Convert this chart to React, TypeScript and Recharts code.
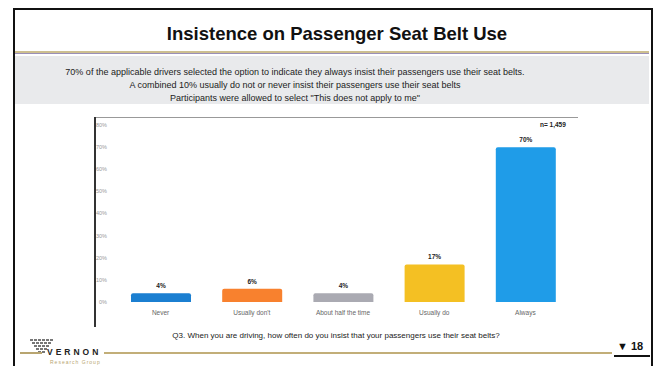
import { BarChart, Bar, XAxis, YAxis, Cell, LabelList } from "recharts";

const categories = ["Never", "Usually don't", "About half the time", "Usually do", "Always"];
const percents = [4, 6, 4, 17, 70];
const barColors = ["#1b7fd1", "#f8812e", "#aaaab2", "#f4c023", "#1f9ce8"];
const yTicks = [0, 10, 20, 30, 40, 50, 60, 70, 80];

const data = categories.map((name, i) => ({ name, value: percents[i] }));

const narrow = "'Liberation Sans Narrow', 'Liberation Sans', Arial, sans-serif";

function Logo() {
  const dots = [];
  for (let r = 0; r < 5; r++) {
    const n = 6 - r;
    for (let c = 0; c < n; c++) {
      dots.push(<rect key={r + "-" + c} x={2 + r * 2 + c * 4} y={r * 3} width={3} height={2} fill="#777" />);
    }
  }
  return (
    <svg width={30} height={17} style={{ position: "absolute", left: 28, top: 339 }}>
      {dots}
    </svg>
  );
}

export default function App() {
  return (
    <div style={{ position: "fixed", left: 0, top: 0, width: 655, height: 366, background: "#fff", overflow: "hidden", fontFamily: "'Liberation Sans', Arial, sans-serif" }}>
      {/* slide frame */}
      <div style={{ position: "absolute", left: 13, top: 8, width: 636, height: 370, border: "2px solid #111" }} />
      <div style={{ position: "absolute", left: 15, top: 23, width: 644, textAlign: "center", fontSize: 18.5, fontWeight: "bold", color: "#111" }}>
        Insistence on Passenger Seat Belt Use
      </div>
      <div style={{ position: "absolute", left: 15, top: 51, width: 634, height: 2, background: "#cdbf90" }} />
      <div style={{ position: "absolute", left: 15, top: 53, width: 634, height: 1, background: "#9a8fb8" }} />
      <div style={{ position: "absolute", left: 15, top: 56, width: 634, height: 48, background: "#e9eaec" }} />
      <div style={{ position: "absolute", left: 15, top: 66, width: 560, textAlign: "center", fontSize: 9, lineHeight: "13px", color: "#222", fontFamily: narrow }}>
        70% of the applicable drivers selected the option to indicate they always insist their passengers use their seat belts.
        <br />
        A combined 10% usually do not or never insist their passengers use their seat belts
        <br />
        Participants were allowed to select "This does not apply to me"
      </div>

      {/* chart frame lines */}
      <div style={{ position: "absolute", left: 95, top: 117, width: 483, height: 1, background: "#999" }} />
      <div style={{ position: "absolute", left: 94, top: 117, width: 2, height: 210, background: "#333" }} />
      <div style={{ position: "absolute", left: 540, top: 121, fontSize: 6.5, fontWeight: "bold", color: "#222" }}>n= 1,459</div>

      <div style={{ position: "absolute", left: 96, top: 118 }}>
        <BarChart width={480} height={207} data={data} margin={{ top: 7, right: 5, bottom: 5, left: 0 }}>
          <YAxis
            type="number"
            domain={[0, 80]}
            ticks={yTicks}
            width={19}
            axisLine={false}
            tickLine={false}
            tick={{ fontSize: 5.5, fill: "#999" }}
            tickFormatter={(v) => v + "%"}
          />
          <XAxis
            dataKey="name"
            axisLine={false}
            tickLine={false}
            height={18}
            interval={0}
            tick={{ fontSize: 6.5, fill: "#666", fontFamily: narrow }}
          />
          <Bar dataKey="value" barSize={60} isAnimationActive={false} radius={[2, 2, 0, 0]}>
            {data.map((_, i) => (
              <Cell key={i} fill={barColors[i]} />
            ))}
            <LabelList
              dataKey="value"
              position="top"
              offset={5}
              formatter={(v: any) => v + "%"}
              style={{ fontSize: 6.5, fontWeight: "bold", fill: "#222" }}
            />
          </Bar>
        </BarChart>
      </div>

      <div style={{ position: "absolute", left: 15, top: 331, width: 642, textAlign: "center", fontSize: 8, color: "#222", fontFamily: narrow }}>
        Q3. When you are driving, how often do you insist that your passengers use their seat belts?
      </div>

      {/* footer */}
      <Logo />
      <div style={{ position: "absolute", left: 20, top: 352, width: 22, height: 1.5, background: "#b8a570" }} />
      <div style={{ position: "absolute", left: 47, top: 347, fontSize: 8.5, fontWeight: "bold", letterSpacing: 3, color: "#222" }}>VERNON</div>
      <div style={{ position: "absolute", left: 50, top: 359, fontSize: 5, letterSpacing: 1, color: "#b8a570" }}>Research Group</div>
      <div style={{ position: "absolute", left: 104, top: 352, width: 508, height: 1.5, background: "#c2ae78" }} />
      <div style={{ position: "absolute", left: 617, top: 340, fontSize: 11, fontWeight: "bold", color: "#111" }}>▼ 18</div>
      <div style={{ position: "absolute", left: 614, top: 355, width: 36, height: 1.5, background: "#111" }} />
    </div>
  );
}
